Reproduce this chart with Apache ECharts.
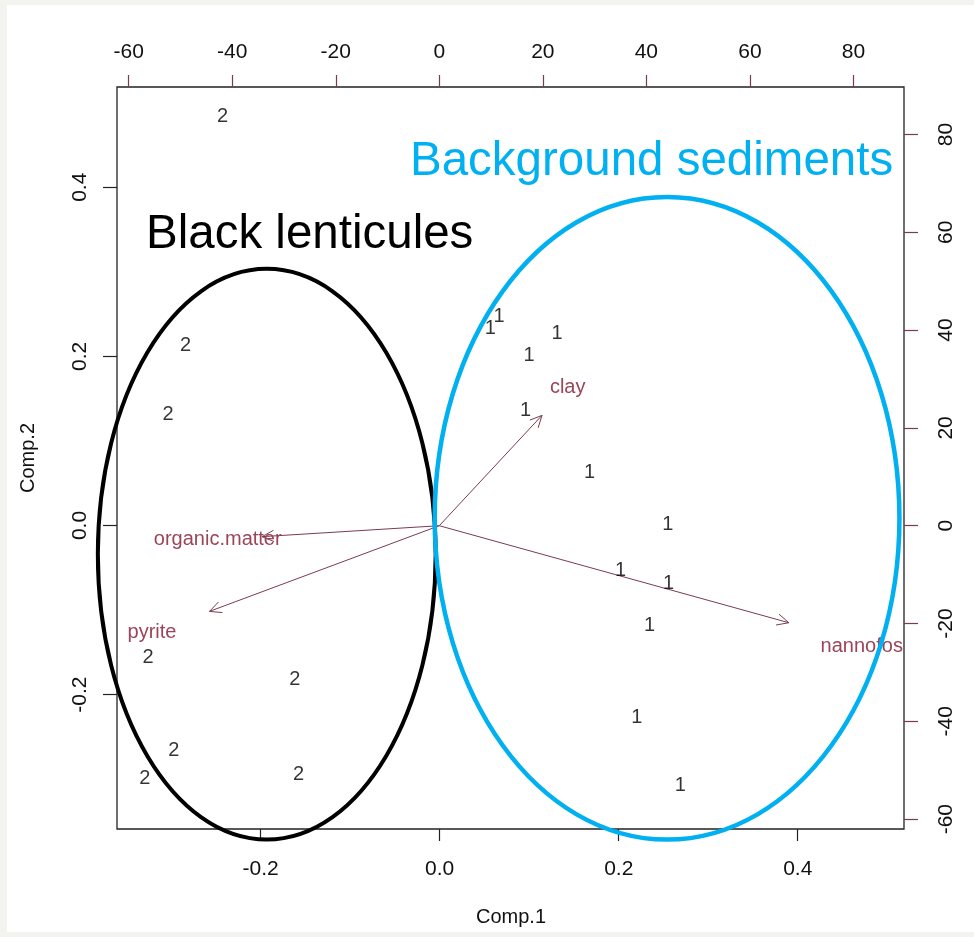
<!DOCTYPE html>
<html>
<head>
<meta charset="utf-8">
<script src="https://cdn.jsdelivr.net/npm/echarts@6/dist/echarts.min.js"></script>
<style>
html, body { margin: 0; padding: 0; background: #f3f4f0; }
#paper { position: absolute; left: 7px; top: 5px; width: 967px; height: 927px; background: #fff; }
#container { position: absolute; left: 0; top: 0; width: 974px; height: 937px; }
</style>
</head>
<body>
<div id="paper"></div>
<div id="container"></div>
<script>
// PCA biplot: scores on Comp.1 / Comp.2 (bottom / left axes)
// group 1 = background sediments
var score1X = [0.0662, 0.0566, 0.1310, 0.0997, 0.0960, 0.1675, 0.2549, 0.2021, 0.2557, 0.2345, 0.2203, 0.2688];
var score1Y = [0.2470, 0.2333, 0.2274, 0.2006, 0.1359, 0.0626, 0.0017, -0.0532, -0.0681, -0.1186, -0.2270, -0.3077];
// group 2 = black lenticules
var score2X = [-0.2427, -0.2840, -0.3034, -0.3257, -0.1619, -0.2970, -0.3294, -0.1578];
var score2Y = [0.4835, 0.2124, 0.1317, -0.1556, -0.1816, -0.2663, -0.2998, -0.2950];
// variable loadings (top / right axes), label sits at the loading, arrow goes to 0.8 of it
var varNames = ['clay', 'organic.matter', 'pyrite', 'nannofossils'];
var loadX = [24.8, -42.8, -55.5, 84.4];
var loadY = [28.2, -2.8, -21.9, -24.8];
// tick values
var compTicks = [-0.2, 0, 0.2, 0.4];
var loadTicks = [-60, -40, -20, 0, 20, 40, 60, 80];
// grouping ellipses [cx, cy, rx, ry] in Comp units
var groupNames = ['Black lenticules', 'Background sediments'];
var ellipses = [[-0.1932, -0.0340, 0.1887, 0.3375], [0.2540, 0.0085, 0.2596, 0.3800]];

var FONT = 'Liberation Sans';
var arrowColor = '#7b3b4a';
var varTextColor = '#9a4558';
var groupColors = ['#000000', '#00b0f0'];

var myChart = echarts.init(document.getElementById('container'));

//通用的轴配置
function makeAxis(pos, min, max, ticks, tickColor, tickLen, margin, rotate, fmt) {
    return {
        type: 'value',
        position: pos,
        min: min,
        max: max,
        axisLine: { show: false, onZero: false },
        splitLine: { show: false },
        axisTick: { show: true, customValues: ticks, length: tickLen, lineStyle: { color: tickColor, width: 1.2 } },
        axisLabel: {
            show: true, customValues: ticks, margin: margin, rotate: rotate,
            fontSize: 21, fontFamily: FONT, color: '#111',
            formatter: fmt
        }
    };
}
var fmtComp = function (v) { return v.toFixed(1); };
var fmtLoad = function (v) { return String(Math.round(v)); };

var option = {
    animation: false,
    textStyle: { fontFamily: FONT },
    grid: { left: 117, top: 87, right: 70, bottom: 108, show: true, borderColor: '#222', borderWidth: 1.3, backgroundColor: 'transparent' },
    xAxis: [
        makeAxis('bottom', -0.3605, 0.5187, compTicks, '#222', 12, 30, 0, fmtComp),
        makeAxis('top', -62.26, 89.77, loadTicks, arrowColor, 12, 24, 0, fmtLoad)
    ],
    yAxis: [
        makeAxis('left', -0.3590, 0.5186, compTicks, '#222', 14, 26, 90, fmtComp),
        makeAxis('right', -62.02, 89.71, loadTicks, arrowColor, 14, 32, 90, fmtLoad)
    ],
    graphic: [
        { type: 'text', x: 511, y: 917, style: { text: 'Comp.1', fontSize: 20, fontFamily: FONT, fill: '#111', align: 'center', verticalAlign: 'middle' } },
        { type: 'text', x: 28, y: 458, rotation: Math.PI / 2, style: { text: 'Comp.2', fontSize: 20, fontFamily: FONT, fill: '#111', align: 'center', verticalAlign: 'middle' } },
        { type: 'text', x: 146, y: 235, z: 10, style: { text: groupNames[0], fontSize: 47.5, fontFamily: FONT, fill: groupColors[0], align: 'left', verticalAlign: 'middle' } },
        { type: 'text', x: 410, y: 162, z: 10, style: { text: groupNames[1], fontSize: 47.5, fontFamily: FONT, fill: groupColors[1], align: 'left', verticalAlign: 'middle' } }
    ],
    series: [
        {
            name: 'group1', type: 'scatter', xAxisIndex: 0, yAxisIndex: 0, silent: true,
            symbolSize: 1, itemStyle: { color: 'transparent' },
            data: score1X.map(function (x, i) { return [x, score1Y[i]]; }),
            label: { show: true, position: 'inside', formatter: '1', fontSize: 20, fontFamily: FONT, color: '#000' }
        },
        {
            name: 'group2', type: 'scatter', xAxisIndex: 0, yAxisIndex: 0, silent: true,
            symbolSize: 1, itemStyle: { color: 'transparent' },
            data: score2X.map(function (x, i) { return [x, score2Y[i]]; }),
            label: { show: true, position: 'inside', formatter: '2', fontSize: 20, fontFamily: FONT, color: '#000' }
        },
        {
            //载荷箭头
            name: 'loadings', type: 'custom', xAxisIndex: 1, yAxisIndex: 1, clip: true, silent: true,
            data: loadX.map(function (x, i) { return [x, loadY[i]]; }),
            renderItem: function (params, api) {
                var u = api.value(0), w = api.value(1);
                var o = api.coord([0, 0]);
                var t = api.coord([u * 0.8, w * 0.8]);
                var l = api.coord([u, w]);
                var ang = Math.atan2(t[1] - o[1], t[0] - o[0]);
                var h = 13, a = Math.PI / 7;
                var p1 = [t[0] - h * Math.cos(ang - a), t[1] - h * Math.sin(ang - a)];
                var p2 = [t[0] - h * Math.cos(ang + a), t[1] - h * Math.sin(ang + a)];
                return {
                    type: 'group',
                    children: [
                        { type: 'line', shape: { x1: o[0], y1: o[1], x2: t[0], y2: t[1] }, style: { stroke: arrowColor, lineWidth: 1 } },
                        { type: 'polyline', shape: { points: [p1, t, p2] }, style: { stroke: arrowColor, lineWidth: 1, fill: null } },
                        { type: 'text', x: l[0], y: l[1], style: { text: varNames[params.dataIndex], fontSize: 20, fontFamily: FONT, fill: varTextColor, align: 'center', verticalAlign: 'middle' } }
                    ]
                };
            }
        },
        {
            //分组椭圆
            name: 'groups', type: 'custom', xAxisIndex: 0, yAxisIndex: 0, clip: false, silent: true, z: 5,
            data: ellipses,
            renderItem: function (params, api) {
                var e = ellipses[params.dataIndex];
                var c = api.coord([e[0], e[1]]);
                var s = api.size([e[2], e[3]]);
                return {
                    type: 'ellipse',
                    shape: { cx: c[0], cy: c[1], rx: s[0], ry: s[1] },
                    style: { fill: 'none', stroke: groupColors[params.dataIndex], lineWidth: params.dataIndex === 0 ? 4 : 4.5 }
                };
            }
        }
    ]
};
myChart.setOption(option, true);
</script>
</body>
</html>
